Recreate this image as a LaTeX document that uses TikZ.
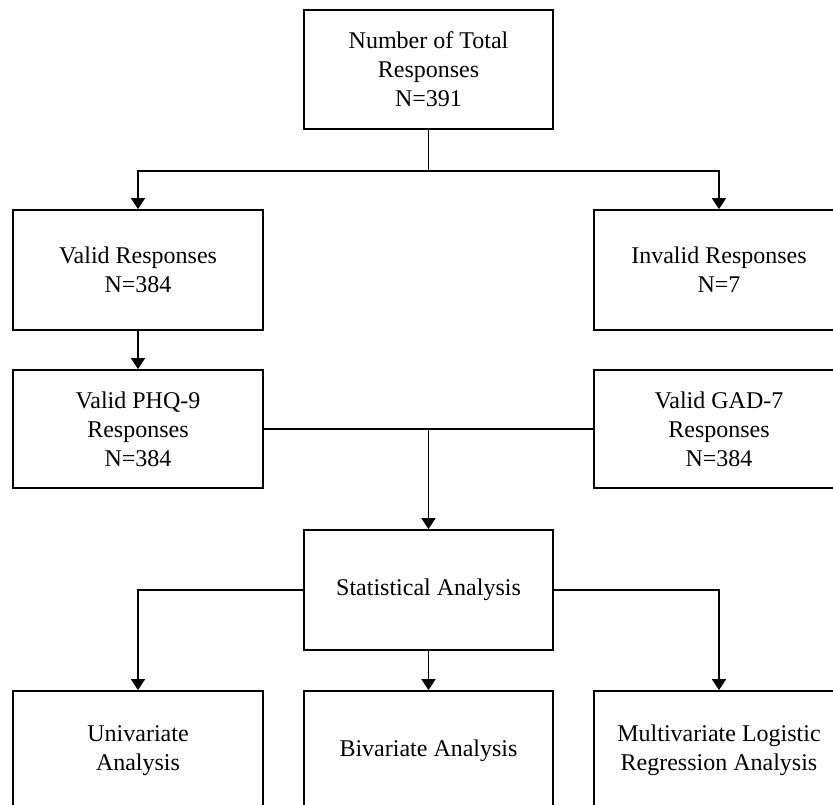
\documentclass[tikz,border=0pt]{standalone}
\usepackage{fontspec}
\setmainfont{Liberation Serif}
\usetikzlibrary{arrows.meta}
\begin{document}
\begin{tikzpicture}[x=1pt,y=-1pt,
  box/.style={draw=black,line width=1.8pt,rectangle,minimum width=250pt,minimum height=119pt,
    align=center,inner sep=0pt,font=\fontsize{24}{29}\selectfont},
  conn/.style={line width=1.8pt,draw=black},
  arr/.style={conn,-{Triangle[length=11pt,width=14pt]}}]
\useasboundingbox (0,0) rectangle (833,805);
\clip (0,0) rectangle (833,805);
\node[box,minimum width=249pt] (top) at (428.5,69.5) {Number of Total\\Responses\\N=391};
\node[box,minimum height=120pt] (valid) at (138,270) {Valid Responses\\N=384};
\node[box,minimum height=120pt] (invalid) at (719,270) {Invalid Responses\\N=7};
\node[box,minimum height=118pt] (phq) at (138,429) {Valid PHQ-9\\Responses\\N=384};
\node[box,minimum height=118pt] (gad) at (719,429) {Valid GAD-7\\Responses\\N=384};
\node[box,minimum width=249pt,minimum height=120pt] (stat) at (428.5,590) {Statistical Analysis};
\node[box] (uni) at (138,750.5) {Univariate\\Analysis};
\node[box,minimum width=249pt] (bi) at (428.5,750.5) {Bivariate Analysis};
\node[box] (multi) at (719,750.5) {Multivariate Logistic\\Regression Analysis};
\draw[conn] (top.south) -- ++(0,41) coordinate (j1);
\draw[arr] (j1) -| (valid.north);
\draw[arr] (j1) -| (invalid.north);
\draw[arr] (valid.south) -- (phq.north);
\draw[conn] (phq.east) -- (gad.west);
\coordinate (j2) at (phq.east -| stat.north);
\draw[arr] (j2) -- (stat.north);
\draw[arr] (stat.west) -| (uni.north);
\draw[arr] (stat.east) -| (multi.north);
\draw[arr] (stat.south) -- (bi.north);
\end{tikzpicture}
\end{document}
